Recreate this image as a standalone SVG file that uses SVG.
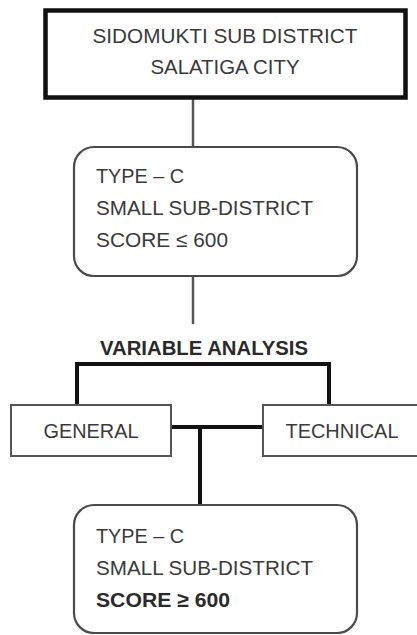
<svg xmlns="http://www.w3.org/2000/svg" width="417" height="635" viewBox="0 0 417 635">
<style>
text{font-family:"Liberation Sans",Arial,sans-serif;font-size:21px;fill:#3a3a3a}
.b{font-weight:bold;fill:#2a2a2a}
.c{text-anchor:middle}
.thin{fill:#fff;stroke:#555;stroke-width:2}
.rnd{fill:#fff;stroke:#4a4a4a;stroke-width:2.2}
.thick{fill:none;stroke:#111;stroke-width:4}
.mid{fill:none;stroke:#555;stroke-width:2.5}
</style>
<rect width="417" height="635" fill="#fff"/>
<g id="connectors">
<line class="mid" x1="193" y1="98" x2="193" y2="147"/>
<line class="mid" x1="193" y1="277" x2="193" y2="324"/>
<polyline class="thick" points="77,405 77,364 329,364 329,405"/>
<line class="thick" x1="171" y1="427" x2="262" y2="427"/>
<line class="thick" x1="200" y1="427" x2="200" y2="505"/>
</g>
<g id="district">
<rect x="45.5" y="10.5" width="360" height="87" fill="#fff" stroke="#111" stroke-width="4.5"/>
<text class="c" x="225" y="43" textLength="265" lengthAdjust="spacingAndGlyphs">SIDOMUKTI SUB DISTRICT</text>
<text class="c" x="225" y="74" textLength="149" lengthAdjust="spacingAndGlyphs">SALATIGA CITY</text>
</g>
<g id="typec1">
<rect class="rnd" x="74" y="147" width="283" height="129" rx="20" ry="20"/>
<text x="96" y="183" textLength="88" lengthAdjust="spacingAndGlyphs">TYPE – C</text>
<text x="96" y="215" textLength="217" lengthAdjust="spacingAndGlyphs">SMALL SUB-DISTRICT</text>
<text x="96" y="247" textLength="132" lengthAdjust="spacingAndGlyphs">SCORE ≤ 600</text>
</g>
<g id="variable-analysis">
<text class="b c" x="204" y="355" font-size="20" textLength="208" lengthAdjust="spacingAndGlyphs">VARIABLE ANALYSIS</text>
</g>
<g id="general">
<rect class="thin" x="11" y="405" width="160" height="51"/>
<text class="c" x="91" y="438" textLength="95" lengthAdjust="spacingAndGlyphs">GENERAL</text>
</g>
<g id="technical">
<rect class="thin" x="263" y="405" width="160" height="51"/>
<text class="c" x="342" y="438" textLength="113" lengthAdjust="spacingAndGlyphs">TECHNICAL</text>
</g>
<g id="typec2">
<rect class="rnd" x="74" y="505" width="283" height="128" rx="20" ry="20"/>
<text x="96" y="543" textLength="88" lengthAdjust="spacingAndGlyphs">TYPE – C</text>
<text x="96" y="575" textLength="217" lengthAdjust="spacingAndGlyphs">SMALL SUB-DISTRICT</text>
<text class="b" x="96" y="607" textLength="134" lengthAdjust="spacingAndGlyphs">SCORE ≥ 600</text>
</g>
</svg>
